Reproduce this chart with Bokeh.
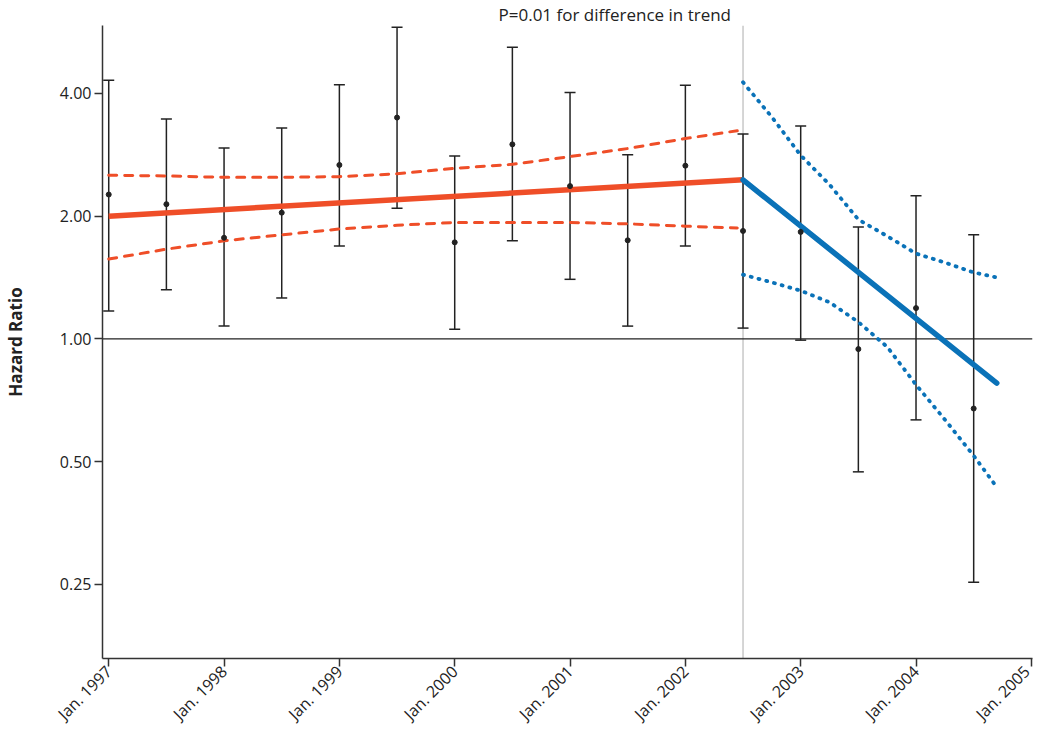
from math import pi
from bokeh.plotting import figure
from bokeh.models import (ColumnDataSource, Whisker, TeeHead, Span, Title,
                          FixedTicker, PrintfTickFormatter, Range1d)
from bokeh.embed import file_html
from bokeh.resources import INLINE

# ---- data ----
years = [1997.0, 1997.5, 1998.0, 1998.5, 1999.0, 1999.5, 2000.0, 2000.5,
         2001.0, 2001.5, 2002.0, 2002.5, 2003.0, 2003.5, 2004.0, 2004.5]
hr = [2.26, 2.14, 1.77, 2.04, 2.67, 3.49, 1.725, 3.00,
      2.37, 1.745, 2.66, 1.84, 1.83, 0.944, 1.19, 0.675]
hr_upper = [4.31, 3.46, 2.94, 3.29, 4.20, 5.81, 2.81, 5.19,
            4.02, 2.83, 4.19, 3.18, 3.33, 1.88, 2.245, 1.80]
hr_lower = [1.17, 1.32, 1.075, 1.26, 1.69, 2.09, 1.056, 1.74,
            1.40, 1.075, 1.69, 1.063, 0.993, 0.472, 0.633, 0.253]

pre_trend_x = [1997.0, 2002.5]
pre_trend = [2.0, 2.455]
pre_ci_x = [1997.0, 1997.5, 1998.0, 1998.5, 1999.0, 1999.5, 2000.0, 2000.5,
            2001.0, 2001.5, 2002.0, 2002.45]
pre_ci_upper = [2.52, 2.51, 2.49, 2.49, 2.50, 2.54, 2.62, 2.68, 2.80, 2.93, 3.10, 3.24]
pre_ci_lower = [1.57, 1.66, 1.74, 1.80, 1.86, 1.90, 1.93, 1.93, 1.93, 1.915, 1.89, 1.87]

post_trend_x = [2002.5, 2004.7]
post_trend = [2.455, 0.779]
post_ci_x = [2002.5, 2002.75, 2003.0, 2003.25, 2003.5, 2003.75, 2004.0, 2004.25, 2004.5, 2004.7]
post_ci_upper = [4.26, 3.50, 2.82, 2.39, 1.962, 1.787, 1.619, 1.539, 1.455, 1.415]
post_ci_lower = [1.437, 1.376, 1.313, 1.23, 1.10, 0.956, 0.772, 0.634, 0.517, 0.433]

y_ticks = [0.25, 0.5, 1.0, 2.0, 4.0]
x_ticks = [1997, 1998, 1999, 2000, 2001, 2002, 2003, 2004, 2005]
x_labels = ["Jan. 1997", "Jan. 1998", "Jan. 1999", "Jan. 2000", "Jan. 2001",
            "Jan. 2002", "Jan. 2003", "Jan. 2004", "Jan. 2005"]
change_point = 2002.5
note = "P=0.01 for difference in trend"

RED = "#EF4E28"
BLUE = "#0A72B8"
INK = "#222222"
FONT = "Open Sans"

p = figure(width=1034, height=735,
           x_range=Range1d(1996.946, 2005.01),
           y_range=Range1d(0.1645, 5.87),
           y_axis_type="log",
           output_backend="svg", toolbar_location=None,
           min_border_left=94, min_border_right=2,
           min_border_top=0, min_border_bottom=74)
p.outline_line_color = None
p.xgrid.visible = False
p.ygrid.visible = False
p.background_fill_color = "white"
p.border_fill_color = "white"

# note above the plot
p.title = Title(text=note, align="left", offset=396, standoff=0,
                text_font=FONT, text_font_size="17px",
                text_font_style="normal", text_color=INK)

# reference lines
p.add_layout(Span(location=change_point, dimension="height",
                  line_color="#c8c8c8", line_width=1.5, level="underlay"))
p.add_layout(Span(location=1.0, dimension="width",
                  line_color=INK, line_width=1.2, level="underlay"))

# trend lines
p.line(pre_ci_x, pre_ci_upper, line_color=RED, line_width=3,
       line_dash="8 8", line_cap="round")
p.line(pre_ci_x, pre_ci_lower, line_color=RED, line_width=3,
       line_dash="8 8", line_cap="round")
p.line(pre_trend_x, pre_trend, line_color=RED, line_width=5.5)

p.line(post_ci_x, post_ci_upper, line_color=BLUE, line_width=3.8,
       line_dash="1 7", line_cap="round")
p.line(post_ci_x, post_ci_lower, line_color=BLUE, line_width=3.8,
       line_dash="1 7", line_cap="round")
p.line(post_trend_x, post_trend, line_color=BLUE, line_width=5.5,
       line_cap="round")

# error bars
src = ColumnDataSource(dict(x=years, hr=hr, upper=hr_upper, lower=hr_lower))
p.add_layout(Whisker(source=src, base="x", upper="upper", lower="lower",
                     dimension="height", line_color=INK, line_width=1.5,
                     upper_head=TeeHead(size=11, line_color=INK, line_width=1.5),
                     lower_head=TeeHead(size=11, line_color=INK, line_width=1.5)))
p.scatter("x", "hr", source=src, size=5, color=INK)

# axes
for ax in (p.xaxis[0], p.yaxis[0]):
    ax.axis_line_color = "#333333"
    ax.axis_line_width = 1.5
    ax.major_tick_line_color = "#333333"
    ax.major_tick_line_width = 1.5
    ax.major_tick_out = 8
    ax.major_tick_in = 0
    ax.minor_tick_line_color = None
    ax.major_label_text_font = FONT
    ax.major_label_text_color = INK

p.yaxis.ticker = FixedTicker(ticks=y_ticks)
p.yaxis.formatter = PrintfTickFormatter(format="%.2f")
p.yaxis.major_label_text_font_size = "16px"
p.yaxis.major_label_standoff = 3
p.yaxis.axis_label = "Hazard Ratio"
p.yaxis.axis_label_text_font = FONT
p.yaxis.axis_label_text_font_size = "17px"
p.yaxis.axis_label_text_font_style = "bold"
p.yaxis.axis_label_text_color = INK
p.yaxis.axis_label_standoff = 30

p.xaxis.ticker = FixedTicker(ticks=x_ticks)
p.xaxis.major_label_overrides = {t: l for t, l in zip(x_ticks, x_labels)}
p.xaxis.major_label_orientation = pi / 4
p.xaxis.major_label_text_font_size = "16px"
p.xaxis.major_label_standoff = 2

open("out.html", "w").write(file_html(p, INLINE))
